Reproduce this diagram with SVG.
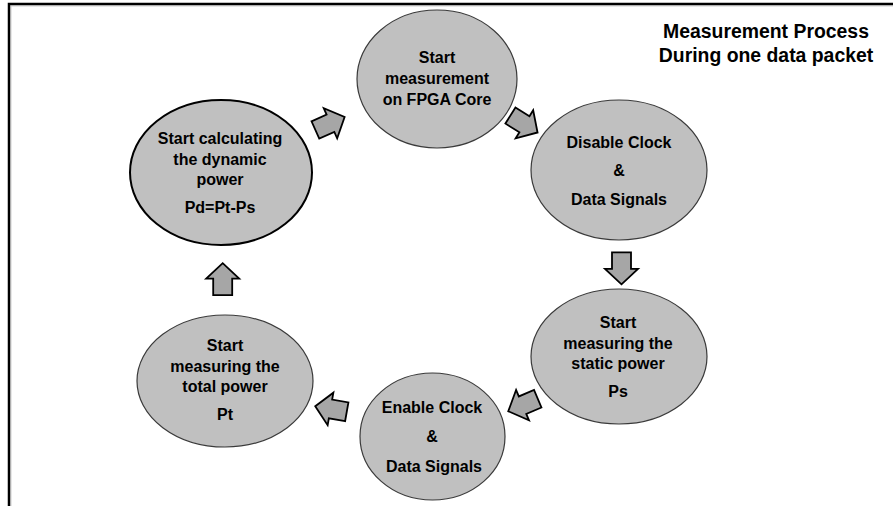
<svg xmlns="http://www.w3.org/2000/svg" width="893" height="506" viewBox="0 0 893 506">
<defs>
<style>
.node{fill:#c0c0c0;stroke:#3a3a3a;stroke-width:1.2}
.node.thick{stroke:#000;stroke-width:2}
.lbl{font-family:"Liberation Sans",Arial,sans-serif;font-weight:bold;font-size:16px;fill:#000;text-anchor:middle}
.title{font-family:"Liberation Sans",Arial,sans-serif;font-weight:bold;font-size:19.4px;fill:#000;text-anchor:middle}
.arr{fill:#a6a6a6;stroke:#000;stroke-width:1.8;stroke-linejoin:miter}
</style>
<polygon id="blk" points="-16,-9.5 0.5,-9.5 0.5,-16.5 16,0 0.5,16.5 0.5,9.5 -16,9.5"/>
</defs>
<rect x="0" y="0" width="893" height="506" fill="#fff"/>
<g id="frame">
<path d="M11,506 V6 H893" fill="none" stroke="#d0d0d0" stroke-width="1"/>
<path d="M9,506 V4 H893" fill="none" stroke="#000" stroke-width="2.5"/>
</g>
<g id="title">
<text class="title" x="766" y="38">Measurement Process</text>
<text class="title" x="766" y="62">During one data packet</text>
</g>
<g id="connectors">
<use href="#blk" class="arr" transform="translate(330,123.5) rotate(-24)"/>
<use href="#blk" class="arr" transform="translate(524,124) rotate(32)"/>
<use href="#blk" class="arr" transform="translate(621.5,268.3) rotate(90)"/>
<use href="#blk" class="arr" transform="translate(523,405) rotate(157)"/>
<use href="#blk" class="arr" transform="translate(331,409) rotate(190)"/>
<use href="#blk" class="arr" transform="translate(222.7,279.2) rotate(-90)"/>
</g>
<g id="n-start">
<ellipse class="node" cx="437" cy="79" rx="80" ry="69"/>
<text class="lbl" x="437" y="63">Start</text>
<text class="lbl" x="437" y="84">measurement</text>
<text class="lbl" x="437" y="105">on FPGA Core</text>
</g>
<g id="n-disable">
<ellipse class="node" cx="619" cy="170" rx="88" ry="70"/>
<text class="lbl" x="619" y="148">Disable Clock</text>
<text class="lbl" x="619" y="176">&amp;</text>
<text class="lbl" x="619" y="205">Data Signals</text>
</g>
<g id="n-static">
<ellipse class="node" cx="619" cy="356.5" rx="88" ry="67.5"/>
<text class="lbl" x="618" y="328">Start</text>
<text class="lbl" x="618" y="349">measuring the</text>
<text class="lbl" x="618" y="369">static power</text>
<text class="lbl" x="618" y="397">Ps</text>
</g>
<g id="n-enable">
<ellipse class="node" cx="432.5" cy="436.5" rx="72.5" ry="63.5"/>
<text class="lbl" x="432" y="413">Enable Clock</text>
<text class="lbl" x="432" y="442">&amp;</text>
<text class="lbl" x="434" y="472">Data Signals</text>
</g>
<g id="n-total">
<ellipse class="node" cx="225" cy="381" rx="88" ry="66"/>
<text class="lbl" x="225" y="351">Start</text>
<text class="lbl" x="225" y="372">measuring the</text>
<text class="lbl" x="225" y="392">total power</text>
<text class="lbl" x="225" y="420">Pt</text>
</g>
<g id="n-dynamic">
<ellipse class="node thick" cx="221" cy="172.5" rx="91" ry="72.5"/>
<text class="lbl" x="220" y="144">Start calculating</text>
<text class="lbl" x="220" y="165">the dynamic</text>
<text class="lbl" x="220" y="185">power</text>
<text class="lbl" x="220" y="213">Pd=Pt-Ps</text>
</g>
</svg>
